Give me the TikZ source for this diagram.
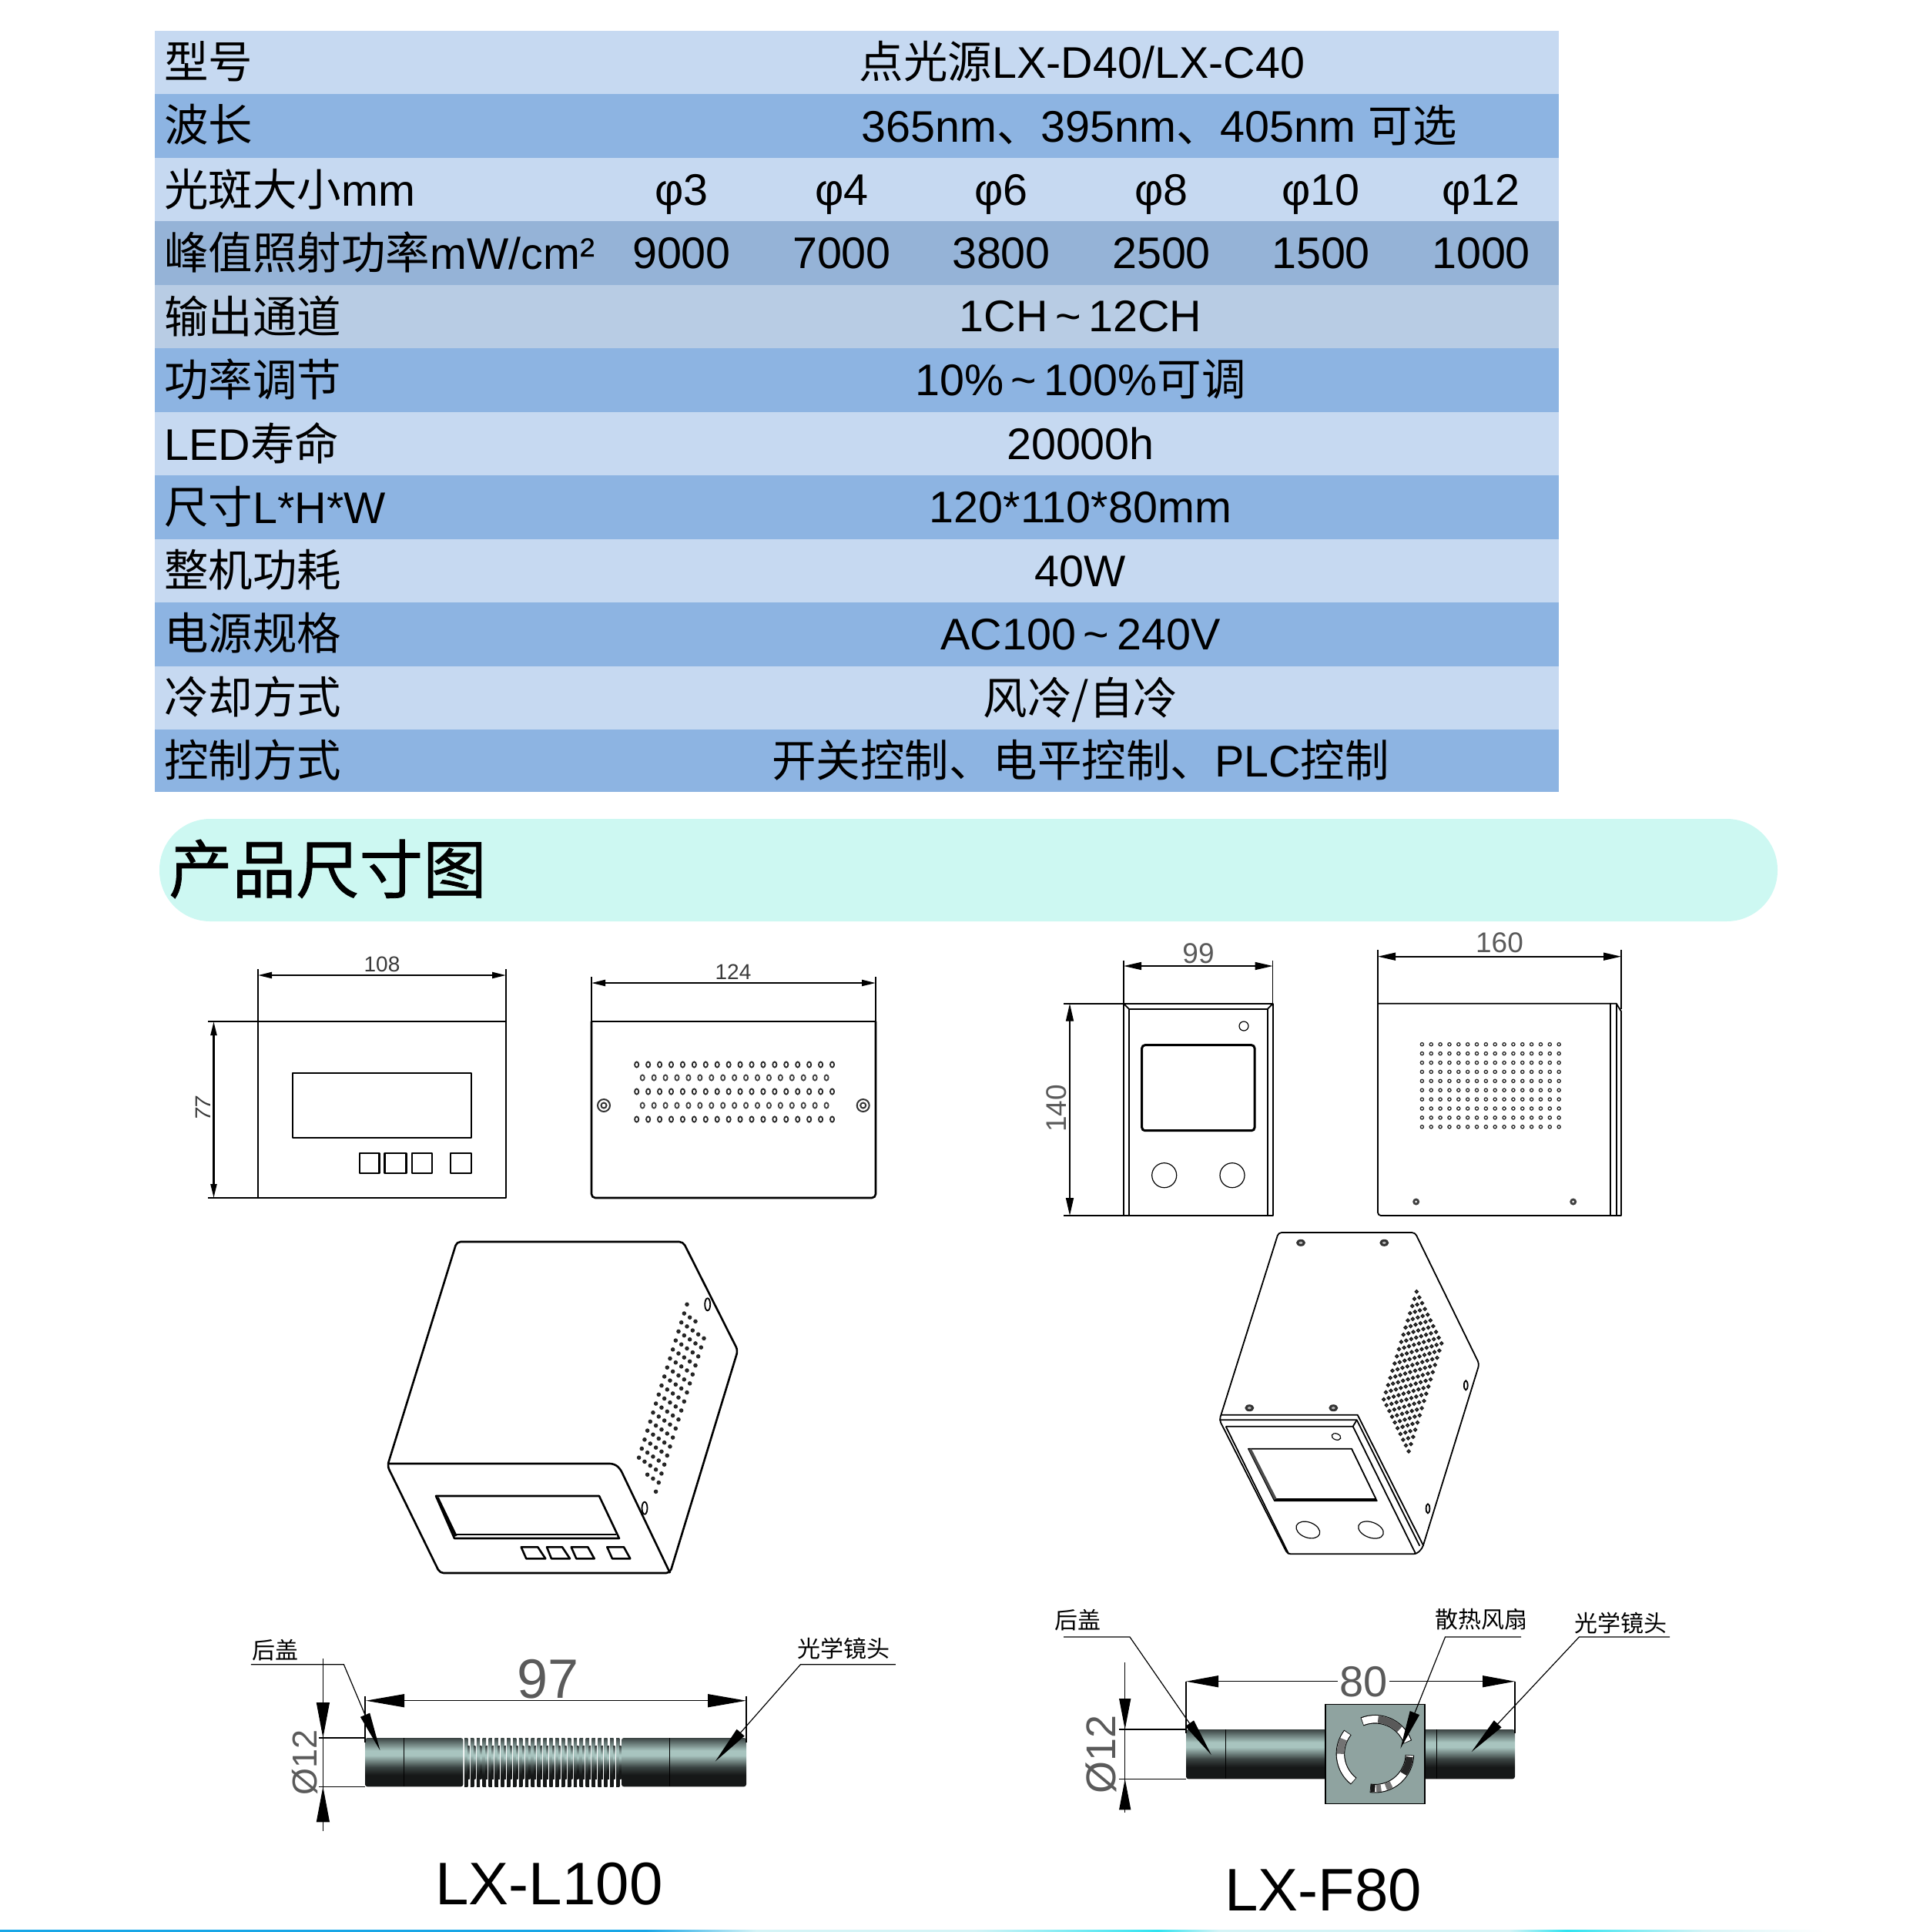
\documentclass[tikz,border=0pt]{standalone}
\usepackage{fontspec}
\setmainfont{Liberation Sans}
\newfontfamily\cjk{Noto Sans CJK SC}
\newfontfamily\cjkhead[FakeBold=0.9]{Noto Sans CJK SC}
\usetikzlibrary{arrows.meta}
\newlength{\du}
\setlength{\du}{1pt}
\newcommand{\zh}[1]{{\cjk #1}}
\newcommand{\fsz}[1]{\fontsize{#1}{#1}\selectfont}
\definecolor{bandlight}{HTML}{C6D9F1}
\definecolor{banddark}{HTML}{8DB4E2}
\definecolor{bandgrey}{HTML}{95B3D7}
\definecolor{bandpale}{HTML}{B8CCE4}
\definecolor{headband}{HTML}{CDF8F2}
\definecolor{fanbox}{HTML}{8FA3A0}
\definecolor{dimtext}{HTML}{3A3A3A}
\definecolor{thintext}{HTML}{5A5A5A}
\definecolor{tubedark}{HTML}{3A4342}
\definecolor{tubelight}{HTML}{A8C4BF}
\definecolor{tubeblack}{HTML}{161818}
\definecolor{barblue}{HTML}{18A6E6}
\definecolor{barcyan}{HTML}{2FE3F0}
\definecolor{barpale}{HTML}{D4F4F6}
\pgfdeclareverticalshading{lenstube}{100bp}{color(0bp)=(tubeblack); color(25bp)=(tubeblack); color(37bp)=(tubeblack); color(45bp)=(tubedark); color(57bp)=(tubelight); color(62bp)=(tubelight); color(75bp)=(tubedark); color(100bp)=(tubedark)}
\pgfdeclarehorizontalshading{barfade}{100bp}{color(0bp)=(barblue); color(25bp)=(barblue); color(41.9bp)=(barblue); color(44.8bp)=(barpale); color(50.5bp)=(barpale); color(55.3bp)=(barcyan); color(56.9bp)=(barpale); color(64.5bp)=(barpale); color(66bp)=(barcyan); color(69.6bp)=(barpale); color(72.8bp)=(white); color(100bp)=(white)}
\tikzset{
  rowhead/.style={anchor=west,inner sep=0pt,text height=42\du,text depth=0pt,font=\fsz{57.5}},
  rowcell/.style={anchor=center,inner sep=0pt,text height=42\du,text depth=0pt,font=\fsz{57.5}},
  modeltag/.style={anchor=center,inner sep=0pt,font=\fsz{78}},
  smalldim/.style={anchor=center,inner sep=0pt,text=dimtext,font=\fsz{28}},
  bigdim/.style={anchor=center,inner sep=0pt,text=thintext,font=\fsz{37}},
  partnote/.style={anchor=center,inner sep=0pt,font=\cjk\fsz{30}},
  outlineL/.style={line width=2.6\du,line join=round},
  outlineF/.style={line width=1.8\du,line join=round},
  extline/.style={line width=1.5\du},
  dimarrL/.style={line width=2.2\du,arrows={Triangle[length=18pt,width=8pt]}-{Triangle[length=18pt,width=8pt]}},
  dimarrF/.style={line width=1.6\du,arrows={Triangle[length=23pt,width=10pt]}-{Triangle[length=23pt,width=10pt]}},
  lensdim/.style={line width=1.2\du,arrows={Triangle[length=50pt,width=17pt]}-{Triangle[length=50pt,width=17pt]}},
  lensdimb/.style={line width=1.2\du,arrows={Triangle[length=42pt,width=15pt]}-{Triangle[length=42pt,width=15pt]}},
  leader/.style={line width=1.2\du,arrows=-{Triangle[length=50pt,width=13pt]}},
  spike/.style={line width=1.2\du,arrows=-{Triangle[length=46pt,width=17pt]}},
  spikeb/.style={line width=1.2\du,arrows=-{Triangle[length=40pt,width=15pt]}},
  tubeline/.style={line width=1\du,black},
  fanrim/.style={line width=11.5\du},
  fanblade/.style={line width=9.3\du,white},
}
\begin{document}
\begin{tikzpicture}
\pgftransformxscale{1.000000}
\pgftransformyscale{-1.000000}
\useasboundingbox (0\du,0\du) rectangle (2480\du,2508\du);
% table
\fill[bandlight] (201\du,40\du) rectangle (2024\du,122.4\du);
\fill[banddark] (201\du,122.4\du) rectangle (2024\du,204.9\du);
\fill[bandlight] (201\du,204.9\du) rectangle (2024\du,287.3\du);
\fill[bandgrey] (201\du,287.3\du) rectangle (2024\du,369.8\du);
\fill[bandpale] (201\du,369.8\du) rectangle (2024\du,452.2\du);
\fill[banddark] (201\du,452.2\du) rectangle (2024\du,534.7\du);
\fill[bandlight] (201\du,534.7\du) rectangle (2024\du,617.1\du);
\fill[banddark] (201\du,617.1\du) rectangle (2024\du,699.6\du);
\fill[bandlight] (201\du,699.6\du) rectangle (2024\du,782\du);
\fill[banddark] (201\du,782\du) rectangle (2024\du,864.5\du);
\fill[bandlight] (201\du,864.5\du) rectangle (2024\du,946.9\du);
\fill[banddark] (201\du,946.9\du) rectangle (2024\du,1028\du);
\node[rowhead] (headType) at (213\du,80\du) {\zh{型号}};
\node[rowcell] (valType) at (1405\du,80\du) {\zh{点光源}LX-D40/LX-C40};
\node[rowhead] (headWave) at (213\du,162\du) {\zh{波长}};
\node[rowcell] (valWave) at (1505\du,163\du) {365nm\zh{、}395nm\zh{、}405nm \zh{可选}};
\node[rowhead] (headSpot) at (213\du,246\du) {\zh{光斑大小}mm};
\node[rowcell] (spotA) at (885\du,245\du) {φ3};
\node[rowcell] (spotB) at (1093\du,245\du) {φ4};
\node[rowcell] (spotC) at (1300\du,245\du) {φ6};
\node[rowcell] (spotD) at (1508\du,245\du) {φ8};
\node[rowcell] (spotE) at (1715\du,245\du) {φ10};
\node[rowcell] (spotF) at (1923\du,245\du) {φ12};
\node[rowhead] (headPeak) at (213\du,328\du) {\zh{峰值照射功率}mW/cm²};
\node[rowcell] (peakA) at (885\du,327\du) {9000};
\node[rowcell] (peakB) at (1093\du,327\du) {7000};
\node[rowcell] (peakC) at (1300\du,327\du) {3800};
\node[rowcell] (peakD) at (1508\du,327\du) {2500};
\node[rowcell] (peakE) at (1715\du,327\du) {1500};
\node[rowcell] (peakF) at (1923\du,327\du) {1000};
\node[rowhead] (headChan) at (213\du,411\du) {\zh{输出通道}};
\node[rowcell] (valChan) at (1403\du,409\du) {1CH\,\textasciitilde\,12CH};
\node[rowhead] (headPower) at (213\du,493\du) {\zh{功率调节}};
\node[rowcell] (valPower) at (1403\du,492\du) {10\%\,\textasciitilde\,100\%\zh{可调}};
\node[rowhead] (headLife) at (213\du,576\du) {LED\zh{寿命}};
\node[rowcell] (valLife) at (1403\du,575\du) {20000h};
\node[rowhead] (headSize) at (213\du,658\du) {\zh{尺寸}L*H*W};
\node[rowcell] (valSize) at (1403\du,657\du) {120*110*80mm};
\node[rowhead] (headWatt) at (213\du,740\du) {\zh{整机功耗}};
\node[rowcell] (valWatt) at (1403\du,740\du) {40W};
\node[rowhead] (headMains) at (213\du,822\du) {\zh{电源规格}};
\node[rowcell] (valMains) at (1403\du,822\du) {AC100\,\textasciitilde\,240V};
\node[rowhead] (headCool) at (213\du,905\du) {\zh{冷却方式}};
\node[rowcell] (valCool) at (1403\du,906\du) {\zh{风冷/自冷}};
\node[rowhead] (headCtrl) at (213\du,987\du) {\zh{控制方式}};
\node[rowcell] (valCtrl) at (1403\du,987\du) {\zh{开关控制、电平控制、}PLC\zh{控制}};
% heading band
\fill[headband,rounded corners=66\du] (207\du,1063\du) rectangle (2308\du,1196\du);
\node[anchor=west,inner sep=0pt,font=\cjkhead\fsz{82.5}] (headDraw) at (219\du,1128\du) {产品尺寸图};
% L100 front view
\draw[outlineL] (335\du,1326\du) rectangle (657\du,1555\du);
\draw[outlineL] (380\du,1393\du) rectangle (612\du,1477\du);
\draw[outlineL] (467\du,1497\du) rectangle (492.5\du,1523\du);
\draw[outlineL] (499.5\du,1497\du) rectangle (527.6\du,1523\du);
\draw[outlineL] (535\du,1497\du) rectangle (561\du,1523\du);
\draw[outlineL] (585\du,1497\du) rectangle (612\du,1523\du);
\coordinate (dimAa) at (335\du,1266\du);
\coordinate (dimAb) at (657\du,1266\du);
\coordinate (dimBa) at (277.5\du,1326\du);
\coordinate (dimBb) at (277.5\du,1555\du);
\draw[extline] (335\du,1258\du) -- (335\du,1326\du);
\draw[extline] (657\du,1258\du) -- (657\du,1326\du);
\draw[outlineL] (270\du,1326\du) -- (335\du,1326\du);
\draw[outlineL] (270\du,1555\du) -- (335\du,1555\du);
\draw[dimarrL] (dimAa) -- (dimAb);
\draw[dimarrL] (dimBa) -- (dimBb);
\node[smalldim] (labAa) at (496\du,1252\du) {108};
\node[smalldim,rotate=90] (labBa) at (264\du,1439\du) {\itshape 77};
% L100 back view
\draw[outlineL,rounded corners=5\du] (768\du,1326\du) -- (768\du,1555\du) -- (1137\du,1555\du) -- (1137\du,1326\du);
\draw[outlineL] (768\du,1326\du) -- (1137\du,1326\du);
\coordinate (dimCa) at (768\du,1276\du);
\coordinate (dimCb) at (1137\du,1276\du);
\draw[extline] (768\du,1268\du) -- (768\du,1326\du);
\draw[extline] (1137\du,1268\du) -- (1137\du,1326\du);
\draw[dimarrL] (dimCa) -- (dimCb);
\node[smalldim] (labCa) at (952\du,1262\du) {124};
\foreach \rowy in {1382,1417,1453}
  \foreach \i in {0,...,17}
    \draw[line width=1.8\du,black!85] ({(826.7+14.93*\i)*\du},\rowy\du) circle[x radius=2.6\du,y radius=3.6\du];
\foreach \rowy in {1399,1435}
  \foreach \i in {0,...,16}
    \draw[line width=1.8\du,black!75] ({(834.2+14.93*\i)*\du},\rowy\du) circle[x radius=2.6\du,y radius=3.6\du];
\draw[line width=2\du,black!80] (784\du,1435\du) circle[radius=8\du];
\draw[line width=2\du,black!80] (784\du,1435\du) circle[radius=3.5\du];
\draw[line width=2\du,black!80] (1120.7\du,1435\du) circle[radius=8\du];
\draw[line width=2\du,black!80] (1120.7\du,1435\du) circle[radius=3.5\du];
% L100 perspective view
\draw[outlineL,rounded corners=5\du] (593\du,1612\du) -- (887\du,1612\du) -- (958\du,1753\du) -- (870\du,2042\du) -- (571\du,2042\du) -- (503\du,1903\du) -- cycle;
\draw[outlineL,rounded corners=5\du] (503\du,1900\du) -- (797\du,1900\du) -- (805\du,1906\du) -- (870\du,2042\du);
\draw[outlineL] (566\du,1942\du) -- (778\du,1942\du) -- (804\du,1997\du) -- (590\du,1997\du) -- cycle;
\draw[outlineL] (592\du,1992\du) -- (800\du,1992\du);
\draw[line width=3.5\du] (568\du,1944\du) -- (592\du,1994\du);
\draw[outlineL] (676.7\du,2008.3\du) -- (698.3\du,2008.3\du) -- (708.3\du,2023.3\du) -- (683.3\du,2023.3\du) -- cycle;
\draw[outlineL] (710\du,2008.3\du) -- (730\du,2008.3\du) -- (740\du,2023.3\du) -- (716\du,2023.3\du) -- cycle;
\draw[outlineL] (741.7\du,2008.3\du) -- (763.3\du,2008.3\du) -- (771.7\du,2023.3\du) -- (748.3\du,2023.3\du) -- cycle;
\draw[outlineL] (788.3\du,2008.3\du) -- (810\du,2008.3\du) -- (818.3\du,2023.3\du) -- (795\du,2023.3\du) -- cycle;
\draw[line width=1.8\du] (918.7\du,1693.3\du) circle[x radius=3.5\du,y radius=8\du];
\draw[line width=1.8\du] (837\du,1957.7\du) circle[x radius=3.5\du,y radius=8\du];
\foreach \k/\ia/\ib in {0/0/0,1/0/2,18/2/4,19/4/4}
  \foreach \i in {\ia,...,\ib}
    \fill[black!85] ({(892+7.33*\i-3.67*\k)*\du},{(1693.3+5.17*\i+11.7*\k)*\du}) circle[radius=2.8\du];
\foreach \k in {2,...,17}
  \foreach \i in {0,...,4}
    \fill[black!85] ({(892+7.33*\i-3.67*\k)*\du},{(1693.3+5.17*\i+11.7*\k)*\du}) circle[radius=2.8\du];
% F80 front view
\draw[outlineF] (1459\du,1302.7\du) rectangle (1652.7\du,1578\du);
\draw[outlineF] (1459\du,1302.7\du) -- (1466\du,1310\du) -- (1645.6\du,1310\du) -- (1652.7\du,1302.7\du);
\draw[outlineF] (1466\du,1310\du) -- (1466\du,1578\du);
\draw[outlineF] (1645.6\du,1310\du) -- (1645.6\du,1578\du);
\draw[line width=1.2\du] (1615\du,1332\du) circle[radius=6\du];
\draw[line width=3\du,rounded corners=4\du] (1482.7\du,1356.7\du) rectangle (1629\du,1467.7\du);
\draw[line width=1.2\du] (1511.7\du,1525.7\du) circle[radius=16\du];
\draw[line width=1.2\du] (1600\du,1525.7\du) circle[radius=16\du];
\coordinate (dimDa) at (1459\du,1254\du);
\coordinate (dimDb) at (1652.7\du,1254\du);
\coordinate (dimEa) at (1389\du,1302.7\du);
\coordinate (dimEb) at (1389\du,1578\du);
\draw[extline] (1459\du,1246.7\du) -- (1459\du,1302.7\du);
\draw[extline] (1652.7\du,1246.7\du) -- (1652.7\du,1302.7\du);
\draw[outlineF] (1381\du,1302.7\du) -- (1459\du,1302.7\du);
\draw[outlineF] (1381\du,1578\du) -- (1459\du,1578\du);
\draw[dimarrF] (dimDa) -- (dimDb);
\draw[dimarrF] (dimEa) -- (dimEb);
\node[bigdim] (labDa) at (1556\du,1238\du) {99};
\node[bigdim,rotate=90] (labEa) at (1372\du,1439\du) {140};
% F80 back view
\draw[outlineF,rounded corners=4\du] (1789\du,1302.7\du) -- (1789\du,1578\du) -- (2091\du,1578\du);
\draw[outlineF] (1789\du,1302.7\du) -- (2098.7\du,1302.7\du) -- (2105\du,1313\du) -- (2105\du,1578\du) -- (2091\du,1578\du);
\draw[outlineF] (2091\du,1302.7\du) -- (2091\du,1578\du);
\draw[outlineF] (2098.7\du,1302.7\du) -- (2098.7\du,1578\du);
\coordinate (dimFa) at (1789\du,1241.7\du);
\coordinate (dimFb) at (2105\du,1241.7\du);
\draw[extline] (1789\du,1233\du) -- (1789\du,1302.7\du);
\draw[extline] (2105\du,1233\du) -- (2105\du,1310\du);
\draw[dimarrF] (dimFa) -- (dimFb);
\node[bigdim] (labFa) at (1947\du,1224\du) {160};
\foreach \r in {0,...,9}
  \foreach \c in {0,...,15}
    \draw[line width=1.3\du,black!85] ({(1846.4+11.85*\c)*\du},{(1355.7+11.9*\r)*\du}) circle[radius=2.1\du];
\fill[black!75] (1838.7\du,1560\du) circle[radius=4.5\du];
\fill[white] (1838.7\du,1560\du) circle[radius=1.5\du];
\fill[black!75] (2042.7\du,1560\du) circle[radius=4.5\du];
\fill[white] (2042.7\du,1560\du) circle[radius=1.5\du];
% F80 perspective view
\draw[outlineF,rounded corners=4\du] (1660\du,1600\du) -- (1837.3\du,1600\du) -- (1920.7\du,1770.7\du) -- (1846.7\du,2010\du) -- (1839.3\du,2017.3\du) -- (1671.7\du,2017.3\du) -- (1583.3\du,1843.3\du) -- cycle;
\draw[outlineF] (1586\du,1836.7\du) -- (1762.7\du,1836.7\du) -- (1848.3\du,2006.7\du);
\draw[outlineF] (1583.3\du,1843.3\du) -- (1761.7\du,1843.3\du) -- (1843.3\du,2006.7\du);
\draw[outlineF] (1591.7\du,1851.7\du) -- (1756.7\du,1851.7\du) -- (1838.3\du,2017.3\du);
\draw[outlineF] (1756.7\du,1851.7\du) -- (1761.7\du,1843.3\du);
\draw[outlineF] (1591.7\du,1851.7\du) -- (1673.3\du,2017.3\du);
\draw[outlineF] (1621\du,1880.7\du) -- (1755\du,1880.7\du) -- (1787.7\du,1948.3\du) -- (1655\du,1948.3\du) -- cycle;
\draw[line width=3\du] (1655\du,1946\du) -- (1787\du,1946\du);
\draw[line width=3.5\du,black!70] (1623\du,1881\du) -- (1656\du,1946\du);
\draw[line width=1.2\du,shift={(1698.3\du,1986\du)},rotate=20] (0\du,0\du) circle[x radius=16\du,y radius=10\du];
\draw[line width=1.2\du,shift={(1780\du,1986\du)},rotate=20] (0\du,0\du) circle[x radius=17\du,y radius=10\du];
\draw[line width=1.2\du,shift={(1735\du,1865\du)},rotate=20] (0\du,0\du) circle[x radius=6\du,y radius=4\du];
\foreach \sx/\sy in {1689/1613.3,1797.3/1613.3,1622.3/1827.7,1731.3/1827.7}{
  \fill[black!80] (\sx\du,\sy\du) circle[x radius=6\du,y radius=4.5\du];
  \fill[white!70!black] (\sx\du,\sy\du) circle[x radius=2.4\du,y radius=1.6\du];
}
\draw[line width=1.8\du] (1903.3\du,1798.3\du) circle[x radius=2.4\du,y radius=6\du];
\draw[line width=1.8\du] (1854\du,1958.3\du) circle[x radius=2.4\du,y radius=6\du];
\foreach \r in {0,...,9}
  \foreach \c in {0,...,15}
    \draw[line width=1.7\du,black!90] ({(1839.3+3.6*\r-2.84*\c)*\du},{(1676.7+7.47*\r+9.33*\c)*\du}) circle[radius=1.8\du];
% L100 lens
\shade[shading=lenstube,rounded corners=3\du] (474\du,2256\du) rectangle (601.4\du,2319.3\du);
\shade[shading=lenstube,rounded corners=3\du] (807\du,2256\du) rectangle (969\du,2319.3\du);
\foreach \i in {0,...,25}
  \shade[shading=lenstube] ({(603+7.88*\i)*\du},2256\du) rectangle ({(607.4+7.88*\i)*\du},2319.3\du);
\foreach \i in {0,...,25}
  \shade[shading=lenstube] ({(607+7.88*\i)*\du},2266.7\du) rectangle ({(609.5+7.88*\i)*\du},2309\du);
\draw[tubeline] (524\du,2256\du) -- (524\du,2319.3\du);
\draw[tubeline] (869.5\du,2256\du) -- (869.5\du,2319.3\du);
\coordinate (dimGa) at (475\du,2207.7\du);
\coordinate (dimGb) at (969\du,2207.7\du);
\coordinate (dimHa) at (419.4\du,2153\du);
\coordinate (dimHb) at (419.4\du,2256\du);
\coordinate (dimHc) at (419.4\du,2319.3\du);
\coordinate (dimHd) at (419.4\du,2376.7\du);
\draw[extline] (474\du,2201.7\du) -- (474\du,2262\du);
\draw[extline] (969\du,2201.7\du) -- (969\du,2262\du);
\draw[extline] (413.7\du,2256\du) -- (474\du,2256\du);
\draw[extline] (413.7\du,2319.3\du) -- (474\du,2319.3\du);
\draw[lensdim] (dimGa) -- (dimGb);
\draw[line width=1.2\du] (dimHa) -- (dimHd);
\draw[spike] (dimHa) -- (dimHb);
\draw[spike] (dimHd) -- (dimHc);
\node[anchor=center,inner sep=0pt,text=thintext,font=\fsz{72}] (labGa) at (712\du,2180\du) {97};
\node[anchor=center,inner sep=0pt,text=thintext,font=\fsz{45},rotate=90] (labHa) at (396\du,2288\du) {Ø12};
\node[partnote] (noteLa) at (357.4\du,2141.7\du) {后盖};
\node[partnote] (noteLb) at (1095\du,2140\du) {光学镜头};
\coordinate (leadLa) at (325.8\du,2160.7\du);
\coordinate (leadLb) at (446.4\du,2160.7\du);
\coordinate (leadLc) at (493.5\du,2272.3\du);
\coordinate (leadLd) at (1162.8\du,2160.7\du);
\coordinate (leadLe) at (1039.4\du,2160.7\du);
\coordinate (leadLf) at (928.6\du,2286.7\du);
\draw[leader] (leadLa) -- (leadLb) -- (leadLc);
\draw[leader] (leadLd) -- (leadLe) -- (leadLf);
\node[modeltag] (tagL) at (713\du,2446\du) {LX-L100};
% F80 lens
\shade[shading=lenstube,rounded corners=3\du] (1540\du,2245\du) rectangle (1967\du,2309.3\du);
\draw[tubeline] (1591\du,2245\du) -- (1591\du,2309.3\du);
\draw[tubeline] (1865.5\du,2245\du) -- (1865.5\du,2309.3\du);
\draw[fill=fanbox,line width=1.5\du] (1721\du,2212.7\du) rectangle (1850\du,2341.7\du);
\coordinate (fanC) at (1785.4\du,2276.7\du);
\draw[fanrim] (fanC) ++(-112:45\du) arc[start angle=-112,end angle=-20,radius=45\du];
\draw[fanblade] (fanC) ++(-111:45\du) arc[start angle=-111,end angle=-21,radius=45\du];
\draw[line width=9.3\du,black!65] (fanC) ++(-85:45\du) arc[start angle=-85,end angle=-45,radius=45\du];
\draw[fanrim] (fanC) ++(-142:45\du) arc[start angle=-142,end angle=-232,radius=45\du];
\draw[fanblade] (fanC) ++(-143:45\du) arc[start angle=-143,end angle=-231,radius=45\du];
\draw[line width=9.3\du,black!55] (fanC) ++(-155:45\du) arc[start angle=-155,end angle=-180,radius=45\du];
\draw[fanrim] (fanC) ++(2:45\du) arc[start angle=2,end angle=98,radius=45\du];
\draw[fanblade] (fanC) ++(3:45\du) arc[start angle=3,end angle=97,radius=45\du];
\draw[line width=9.3\du,black!85] (fanC) ++(5:45\du) arc[start angle=5,end angle=35,radius=45\du];
\draw[line width=9.3\du,black!55] (fanC) ++(62:45\du) arc[start angle=62,end angle=72,radius=45\du];
\draw[line width=9.3\du,black!55] (fanC) ++(80:45\du) arc[start angle=80,end angle=88,radius=45\du];
\draw[line width=9.3\du,black!90] (fanC) ++(90:45\du) arc[start angle=90,end angle=97,radius=45\du];
\coordinate (dimIa) at (1540\du,2182.7\du);
\coordinate (dimIb) at (1967\du,2182.7\du);
\coordinate (dimJa) at (1460.7\du,2158.3\du);
\coordinate (dimJb) at (1460.7\du,2245\du);
\coordinate (dimJc) at (1460.7\du,2309.3\du);
\coordinate (dimJd) at (1460.7\du,2352.7\du);
\draw[extline] (1540\du,2182.7\du) -- (1540\du,2250\du);
\draw[extline] (1967\du,2182.7\du) -- (1967\du,2250\du);
\draw[extline] (1452.5\du,2245\du) -- (1540\du,2245\du);
\draw[extline] (1452.5\du,2309.3\du) -- (1540\du,2309.3\du);
\draw[lensdimb] (dimIa) -- (dimIb);
\draw[line width=1.2\du] (dimJa) -- (dimJd);
\draw[spikeb] (dimJa) -- (dimJb);
\draw[spikeb] (dimJd) -- (dimJc);
\node[anchor=center,inner sep=2\du,fill=white,text=thintext,font=\fsz{56}] (labIa) at (1770.6\du,2182.7\du) {80};
\node[anchor=center,inner sep=0pt,text=thintext,font=\fsz{54},rotate=90] (labJa) at (1430\du,2277\du) {Ø12};
\node[partnote] (noteFa) at (1399\du,2103\du) {后盖};
\node[partnote] (noteFb) at (1923\du,2101.7\du) {散热风扇};
\node[partnote] (noteFc) at (2104\du,2106.7\du) {光学镜头};
\coordinate (leadFa) at (1381\du,2125\du);
\coordinate (leadFb) at (1467\du,2125\du);
\coordinate (leadFc) at (1573\du,2278.3\du);
\coordinate (leadFd) at (1975\du,2125\du);
\coordinate (leadFe) at (1876.5\du,2125\du);
\coordinate (leadFf) at (1818.3\du,2270\du);
\coordinate (leadFg) at (2168\du,2125\du);
\coordinate (leadFh) at (2050.4\du,2125\du);
\coordinate (leadFi) at (1910.5\du,2274.3\du);
\draw[leader] (leadFa) -- (leadFb) -- (leadFc);
\draw[leader] (leadFd) -- (leadFe) -- (leadFf);
\draw[leader] (leadFg) -- (leadFh) -- (leadFi);
\node[modeltag] (tagF) at (1718\du,2454\du) {LX-F80};
% bottom bar
\shade[shading=barfade] (0\du,2505\du) rectangle (2480\du,2508\du);
\end{tikzpicture}
\end{document}
